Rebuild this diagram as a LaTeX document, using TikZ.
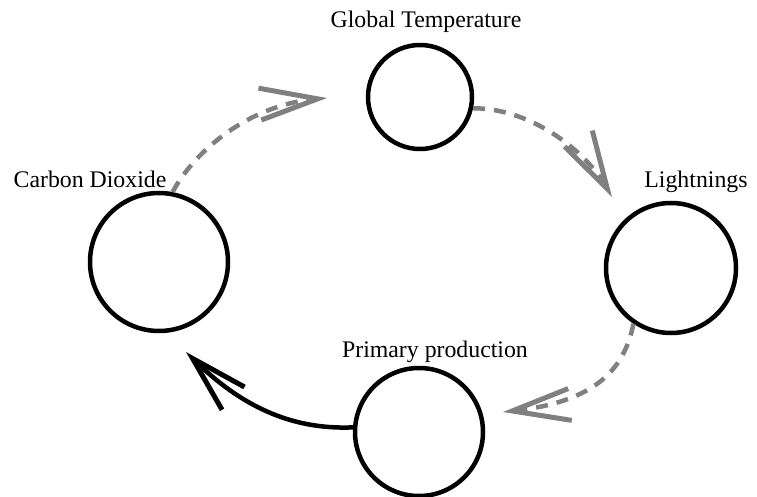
\documentclass[tikz,border=0pt]{standalone}
\usepackage{fontspec}
\setmainfont{Liberation Serif}
\usetikzlibrary{arrows.meta}

\definecolor{fbgray}{RGB}{128,128,128}

\tikzset{every picture/.style={line width=0.75pt}}
\tikzset{
  loopcirc/.style={draw=black, circle, line width=4.5pt, inner sep=0pt, fill=white},
  loopname/.style={anchor=base, font=\fontsize{23.8}{28}\selectfont},
  weakarc/.style={draw=fbgray, line width=4.5pt, dash pattern=on 12pt off 9pt,
    -{Straight Barb[length=58pt,width=32pt,line width=5pt]}},
  strongarc/.style={draw=black, line width=4.5pt,
    -{Straight Barb[length=57pt,width=32pt,line width=5pt]}},
}

\begin{document}
\begin{tikzpicture}[x=1pt,y=1pt,yscale=-1,xscale=1]
%set diagram left start at 0, and has height of 497
\useasboundingbox (0,0) rectangle (757,497);

%Shape: Circle [id:globaltemp]
\node [loopcirc, minimum size=104pt] (gtemp) at (420,97) {};
%Shape: Circle [id:carbondioxide]
\node [loopcirc, minimum size=138pt] (co2) at (159,262) {};
%Shape: Circle [id:lightnings]
\node [loopcirc, minimum size=130pt] (light) at (671,268) {};
%Shape: Circle [id:primaryprod]
\node [loopcirc, minimum size=128pt] (prim) at (419,432) {};

% Text Node
\node [loopname] (gtempname) at (426,28) {Global Temperature};
% Text Node
\node [loopname] (co2name) at (90,187) {Carbon Dioxide};
% Text Node
\node [loopname] (lightname) at (696,187) {Lightnings};
% Text Node
\node [loopname] (primname) at (435,357) {Primary production};

%arrow tips, left free
\coordinate (tipgtemp) at (327,98);
\coordinate (tiplight) at (612,197);
\coordinate (tipprim) at (503,412);
\coordinate (tipco2) at (186,352);

%Curve Lines
\draw [weakarc] (co2.79) .. controls (195,150) and (250,105) .. (tipgtemp);
\draw [weakarc] (gtemp.348) .. controls (530,108) and (585,150) .. (tiplight);
\draw [weakarc] (light.236) .. controls (624,372) and (592,402) .. (tipprim);
\draw [strongarc] (prim.176) .. controls (290,430) and (240,405) .. (tipco2);

\end{tikzpicture}
\end{document}
